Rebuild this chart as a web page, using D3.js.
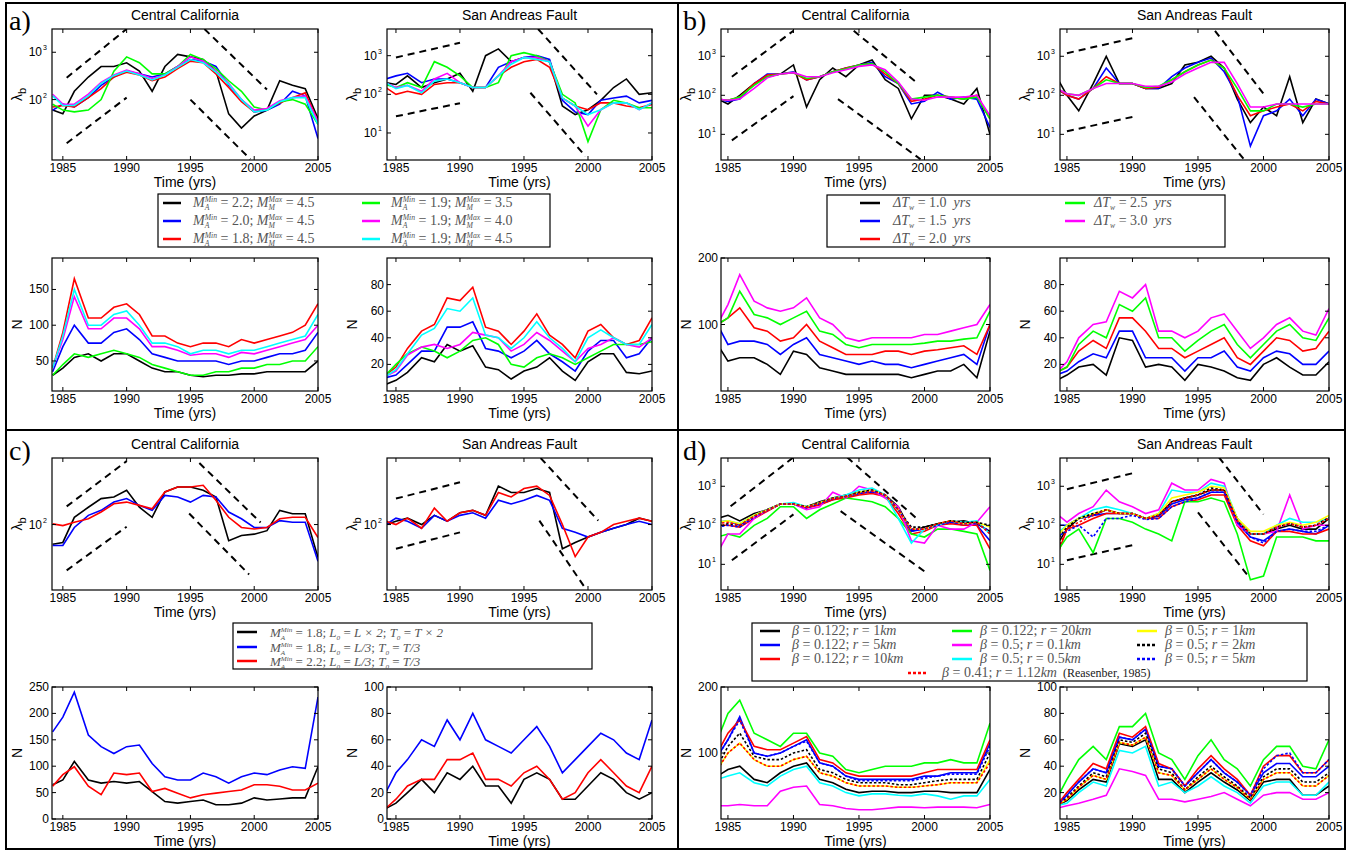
<!DOCTYPE html>
<html><head><meta charset="utf-8">
<script src="https://cdn.jsdelivr.net/npm/d3@7"></script>
<style>body{margin:0;background:#fff}text{white-space:pre}</style>
</head><body><svg id="c" width="1351" height="851"></svg>
<script>
// ---------- DATA ----------
const T=[1984.2,1985,1985.9,1987,1988,1989,1990,1991,1992,1993,1994,1995,1996,1997,1998,1999,2000,2001,2002,2003,2004,2005];
const xTicks=[1985,1990,1995,2000,2005];
const colA=["#000","#00f","#f00","#0f0","#f0f","#0ff"];
const colB=["#000","#00f","#f00","#0f0","#f0f"];
const colC=["#000","#00f","#f00"];
const colD=["#000","#00f","#f00","#0f0","#f0f","#0ff","#ff0","#000","#00f","#f00"];
const dashD=[0,0,0,0,0,0,0,1,1,1];

// panel a
const aCCLam=[
[60,50,150,300,500,500,600,400,150,500,900,800,700,400,50,25,45,60,250,200,170,40],
[60,80,70,110,200,300,400,350,300,350,500,700,650,500,200,100,55,60,80,150,120,15],
[70,75,70,110,170,300,380,330,250,300,450,650,600,350,180,90,55,65,85,110,140,35],
[80,60,55,60,100,400,800,600,350,350,500,900,700,450,250,150,70,60,90,100,80,30],
[130,80,80,130,230,330,420,350,280,330,500,800,650,400,220,100,60,65,95,110,120,35],
[120,75,75,120,220,320,400,330,260,330,480,700,600,380,210,100,55,60,90,110,110,30]];
const aSAFLam=[
[200,180,300,150,200,250,350,120,1000,1500,700,900,900,700,50,30,40,70,150,250,100,110],
[250,300,350,200,250,250,200,150,150,500,700,900,1000,800,70,35,30,70,80,90,60,70],
[150,100,120,100,180,200,200,150,150,300,500,700,800,500,80,50,40,60,60,50,45,55],
[180,150,200,150,700,500,300,150,150,200,1000,1200,1000,700,100,60,6,40,70,60,45,45],
[200,150,170,120,250,350,200,150,150,300,700,900,900,700,80,50,15,40,60,60,40,60],
[200,140,170,110,220,250,200,150,150,300,600,900,800,700,80,50,30,40,60,60,40,60]];
const aCCN=[
[30,40,55,60,50,60,60,50,40,35,35,30,28,30,30,32,32,35,35,35,35,50],
[35,70,100,75,75,90,95,80,60,55,50,50,50,50,45,50,50,55,60,60,65,90],
[40,90,165,110,110,125,130,115,85,85,75,70,75,75,70,80,75,80,85,90,100,130],
[30,45,60,55,60,65,60,55,45,40,35,30,30,35,35,40,40,45,45,50,50,70],
[40,80,140,95,95,110,110,95,70,70,65,58,60,60,55,62,60,65,70,75,80,100],
[40,85,150,100,100,115,120,100,75,75,70,60,65,65,60,65,65,70,75,80,85,115]];
const aSAFN=[
[5,8,14,25,22,35,30,34,18,16,9,15,18,25,15,8,22,28,28,14,13,15],
[10,12,20,30,30,48,48,52,32,30,25,30,38,28,22,15,30,38,38,25,28,40],
[12,18,32,45,50,70,68,78,48,45,35,45,58,42,35,25,45,50,40,35,38,55],
[12,20,28,33,30,25,30,38,40,35,20,18,25,28,25,20,25,30,35,35,35,37],
[11,15,27,33,35,32,35,44,42,40,30,35,44,38,30,22,32,35,40,35,33,40],
[11,16,28,42,47,62,60,70,42,40,32,40,52,40,32,22,40,46,40,35,35,50]];
const aCCRef=[[1985.3,290,1990,3100],[1985.3,12,1990,110],[1996.1,3100,2001,163],[1995,100,1999.7,5.5]];
const aSAFRef=[[1985,900,1990,2150],[1985,27,1990,59],[1996.1,4900,2000.7,100],[1995.5,110,1999.8,2.5]];
const aMA=["2.2","2.0","1.8","1.9","1.9","1.9"], aMM=["4.5","4.5","4.5","3.5","4.0","4.5"];

// panel b
const bCCLam=[
[80,60,100,200,300,350,600,50,250,500,300,600,800,250,150,25,100,100,80,60,150,10],
[80,70,80,200,350,350,400,250,300,400,500,600,700,300,200,60,70,120,80,90,80,15],
[80,75,90,200,330,350,380,250,300,400,500,600,650,350,200,70,80,100,90,80,100,25],
[80,75,90,180,300,350,380,270,300,400,480,600,650,400,200,80,90,100,90,80,90,25],
[80,75,80,150,280,350,380,300,300,380,450,550,600,450,220,80,75,90,90,90,100,30]];
const bSAFLam=[
[300,100,40,200,1000,200,200,150,150,200,600,700,1000,500,80,20,50,30,300,20,80,60],
[150,100,80,150,500,200,200,150,150,300,500,700,900,400,100,5,30,40,80,30,80,60],
[150,100,80,150,300,200,200,150,160,250,400,600,800,500,100,30,40,50,60,40,70,60],
[150,110,100,150,250,200,200,160,170,250,400,600,800,500,150,40,40,60,60,50,60,60],
[150,110,100,150,200,200,200,170,170,220,350,500,700,700,200,50,50,60,60,60,60,60]];
const bCCN=[
[70,45,50,50,40,25,60,55,35,30,25,25,25,25,25,20,25,30,30,40,20,90],
[100,70,75,75,70,55,70,80,55,50,45,40,45,40,40,35,40,45,50,55,40,100],
[100,110,125,95,90,75,80,100,75,65,55,55,55,60,60,55,60,62,65,68,55,100],
[100,110,150,115,110,100,110,120,90,85,70,65,70,70,70,70,72,75,75,78,80,120],
[100,130,175,135,125,120,125,140,110,100,80,75,80,80,80,80,85,85,90,95,100,130]];
const bSAFN=[
[8,12,18,20,12,40,38,18,20,18,8,20,18,15,10,8,20,25,18,12,12,22],
[12,15,22,28,25,45,45,25,25,25,15,25,25,30,18,15,25,30,28,20,20,30],
[14,18,30,38,32,55,55,45,32,32,25,30,35,40,25,20,30,40,38,30,32,45],
[14,18,35,45,40,65,60,70,40,40,30,38,45,50,35,25,35,45,50,40,38,55],
[14,22,40,50,52,75,70,80,45,45,40,45,55,58,45,32,40,50,55,45,42,62]];
const bCCRef=[[1985.3,300,1990,4500],[1985.3,7,1990,95],[1994.6,4500,1999.5,200],[1993.4,80,1999.7,2.3]];
const bSAFRef=[[1985,1200,1990,2900],[1985,12,1990,28],[1996.3,4500,2000,110],[1994.7,90,1998.5,2.3]];
const bDT=["1.0","1.5","2.0","2.5","3.0"];

// panel c
const cCCLam=[
[57,60,123,164,210,220,266,164,123,254,293,293,266,220,63,73,76,84,150,136,136,39],
[55,55,92,130,150,190,210,173,150,230,220,190,230,220,143,118,92,92,112,107,107,35],
[102,97,107,118,143,181,190,173,157,254,293,293,307,200,123,92,88,92,118,123,123,69]];
const cSAFLam=[
[100,110,120,100,130,110,140,150,130,300,250,250,280,250,50,60,70,80,90,100,120,110],
[100,120,110,90,130,110,130,140,120,200,180,200,230,200,90,80,70,80,90,100,110,100],
[110,100,120,90,160,110,140,150,130,250,220,280,300,230,100,40,70,80,100,110,120,110]];
const cCCN=[
[65,74,109,74,68,71,68,71,52,33,30,33,36,27,27,30,40,36,38,40,40,99],
[165,193,240,159,137,124,137,140,105,80,74,74,87,80,68,80,87,84,93,99,96,231],
[62,84,99,62,46,87,84,87,52,58,49,40,46,49,52,55,65,65,62,55,55,68]];
const cSAFN=[
[8,12,20,30,20,35,30,40,25,25,12,30,35,30,15,15,25,35,30,20,15,20],
[20,35,45,60,55,75,60,80,60,55,50,60,70,55,35,45,55,65,60,50,45,75],
[8,15,25,30,30,45,45,50,30,30,25,35,40,30,15,20,35,45,35,25,20,40]];
const cCCRef=[[1985.3,168,1990,612],[1985.3,27,1990,94],[1995.7,580,2000.5,106],[1994.9,137,1999.6,24]];
const cSAFRef=[[1985,210,1990,335],[1985,50,1990,80],[1996.3,670,2000.8,112],[1996.2,112,1999.7,17]];
const cMA=["1.8","1.8","2.2"], cL0=["L × 2","L/3","L/3"], cT0=["T × 2","T/3","T/3"];

// panel d
const dCCLam=[
[150,180,130,200,250,350,350,300,400,500,600,700,800,600,300,70,90,110,120,130,110,70],
[120,130,100,180,250,350,350,300,350,450,550,650,700,600,250,70,80,110,120,100,100,40],
[100,100,90,150,230,350,350,280,330,450,500,600,650,550,200,60,70,100,110,100,100,25],
[50,60,50,100,150,300,300,150,250,350,500,450,400,300,150,60,50,80,80,70,60,7],
[20,60,60,150,250,350,350,250,300,700,500,1000,800,500,300,40,35,100,80,80,120,300],
[120,130,110,180,250,350,380,300,380,500,600,800,900,600,150,35,80,100,130,120,130,60],
[120,130,110,180,250,350,350,300,380,500,550,700,800,600,250,80,80,110,130,110,120,90],
[90,110,100,170,250,350,350,300,380,500,550,700,800,600,250,90,90,110,130,120,120,100],
[90,100,90,160,240,350,350,280,360,480,550,650,750,600,250,80,80,100,120,110,110,70],
[110,120,100,170,240,350,350,290,370,480,550,650,750,600,250,80,80,110,130,110,120,60]];
const dSAFLam=[
[30,80,150,180,250,200,200,150,180,400,500,600,800,800,150,60,60,80,100,80,80,150],
[100,100,150,180,200,200,200,150,170,350,450,500,700,700,120,50,40,70,80,70,60,100],
[15,80,100,150,200,200,200,150,150,300,400,450,600,600,100,40,30,70,70,60,60,80],
[20,50,80,20,150,150,120,80,60,40,400,400,500,400,60,4,5,50,50,50,40,40],
[200,120,200,300,800,400,300,200,250,1200,800,800,1500,1200,100,60,60,70,600,80,100,100],
[60,100,150,250,300,250,200,150,200,800,700,700,1200,1000,150,60,60,100,150,120,120,150],
[50,100,150,200,250,200,200,150,200,500,600,700,1000,900,150,70,70,100,120,100,120,180],
[40,90,150,200,250,200,200,150,180,400,500,600,900,800,130,60,60,90,110,90,100,160],
[50,70,100,50,150,150,180,140,150,300,400,500,700,700,120,50,35,70,80,70,70,100],
[20,80,120,180,250,200,200,150,180,400,500,600,800,800,130,60,60,90,110,90,100,150]];
const dCCN=[
[65,75,80,60,55,70,80,85,60,55,45,40,42,42,40,40,42,42,40,40,40,75],
[95,120,155,100,95,100,110,120,85,80,65,60,60,60,60,60,65,65,70,70,70,115],
[100,130,150,110,105,105,115,125,90,85,70,65,65,65,65,65,70,75,75,75,75,120],
[120,160,180,130,120,110,130,130,100,95,75,70,75,80,80,80,85,85,90,85,85,145],
[20,20,22,20,20,42,48,50,22,20,16,14,14,16,18,18,17,18,18,18,17,22],
[60,65,70,55,50,65,75,80,55,50,40,35,38,38,36,35,38,35,30,35,35,60],
[75,100,115,90,80,80,90,95,70,65,55,50,50,50,48,48,50,52,55,55,55,90],
[80,110,130,95,90,90,100,105,75,70,60,55,55,55,52,52,55,58,60,60,60,100],
[95,120,150,100,95,100,110,118,85,80,65,58,58,58,58,58,62,65,68,68,68,110],
[75,100,115,90,80,80,90,95,70,65,55,50,50,50,48,48,50,52,55,55,55,85]];
const dSAFN=[
[10,14,22,30,28,57,55,60,30,30,20,28,35,28,22,14,28,30,30,18,18,25],
[10,18,28,38,35,62,60,68,40,38,25,35,45,35,28,18,35,42,42,32,32,40],
[10,20,30,42,38,65,62,70,42,38,25,38,48,38,30,18,40,48,48,35,35,45],
[15,30,45,55,45,70,70,80,50,45,30,48,60,45,38,25,45,55,55,40,38,60],
[8,10,12,15,18,38,36,33,15,15,13,15,17,20,15,10,18,20,20,15,15,20],
[10,12,20,28,25,52,50,55,25,28,20,25,32,25,20,12,25,28,28,18,18,28],
[10,15,24,33,30,58,56,62,35,33,22,30,38,30,24,15,30,35,35,25,25,33],
[10,16,25,35,32,60,58,65,38,35,22,32,40,32,25,16,32,38,38,28,28,35],
[10,18,28,38,35,62,60,68,40,38,25,35,45,35,28,18,38,48,50,35,35,45],
[10,15,24,33,30,58,56,62,35,33,22,30,38,30,24,15,30,35,35,25,25,33]];
const dCCRef=[[1985.2,307,1990,5500],[1985.3,12.7,1990,190],[1994.1,5500,1999.5,140],[1993.6,230,2000,6.6]];
const dSAFRef=[[1985,840,1990,2150],[1985,12.7,1990,31],[1996.6,5500,2000,190],[1995,215,1998.8,5.2]];
const dBeta=["0.122","0.122","0.122","0.122","0.5","0.5","0.5","0.5","0.5","0.41"];
const dR=["1","5","10","20","0.1","0.5","1","2","5","1.12"];

// ---------- DRAW ----------
const svg=d3.select("#c");
const SANS="Liberation Sans, Arial, sans-serif", SERIF="Liberation Serif, Times New Roman, serif";
let clipId=0;
function plot(o){
  const g=svg.append("g");
  const x=d3.scaleLinear().domain(o.xd).range([o.x0,o.x1]);
  const y=(o.log?d3.scaleLog():d3.scaleLinear()).domain(o.yd).range([o.y1,o.y0]);
  const id="cl"+(clipId++);
  g.append("clipPath").attr("id",id).append("rect").attr("x",o.x0).attr("y",o.y0).attr("width",o.x1-o.x0).attr("height",o.y1-o.y0);
  const pg=g.append("g").attr("clip-path",`url(#${id})`);
  if(o.refs) o.refs.forEach(r=>pg.append("line").attr("x1",x(r[0])).attr("y1",y(r[1])).attr("x2",x(r[2])).attr("y2",y(r[3]))
     .attr("stroke","#000").attr("stroke-width",2).attr("stroke-dasharray","7,5"));
  const line=d3.line().x((d,i)=>x(T[i])).y(d=>y(d));
  o.series.forEach((s,i)=>{
    pg.append("path").attr("d",line(s)).attr("fill","none").attr("stroke",o.colors[i])
      .attr("stroke-width",1.6).attr("stroke-dasharray",o.dash&&o.dash[i]?"2.5,2":null);
  });
  g.append("rect").attr("x",o.x0).attr("y",o.y0).attr("width",o.x1-o.x0).attr("height",o.y1-o.y0).attr("fill","none").attr("stroke","#000").attr("stroke-width",1.2);
  xTicks.forEach(t=>{const xx=x(t);
    g.append("line").attr("x1",xx).attr("x2",xx).attr("y1",o.y1).attr("y2",o.y1-4).attr("stroke","#000");
    g.append("line").attr("x1",xx).attr("x2",xx).attr("y1",o.y0).attr("y2",o.y0+4).attr("stroke","#000");
    g.append("text").attr("x",xx).attr("y",o.y1+12).attr("text-anchor","middle").attr("font-family",SANS).attr("font-size",12).text(t);
  });
  o.yt.forEach(t=>{const yy=y(t);
    g.append("line").attr("x1",o.x0).attr("x2",o.x0+4).attr("y1",yy).attr("y2",yy).attr("stroke","#000");
    g.append("line").attr("x1",o.x1).attr("x2",o.x1-4).attr("y1",yy).attr("y2",yy).attr("stroke","#000");
    if(o.log){
      g.append("text").attr("x",o.x0-10).attr("y",yy+4).attr("text-anchor","end").attr("font-family",SANS).attr("font-size",12).text("10");
      g.append("text").attr("x",o.x0-9).attr("y",yy-2).attr("font-family",SANS).attr("font-size",7).text(Math.round(Math.log10(t)));
    } else {
      g.append("text").attr("x",o.x0-3).attr("y",yy+4).attr("text-anchor","end").attr("font-family",SANS).attr("font-size",12).text(t);
    }
  });
  g.append("text").attr("x",(o.x0+o.x1)/2).attr("y",o.y1+27).attr("text-anchor","middle").attr("font-family",SANS).attr("font-size",14).text("Time (yrs)");
  if(o.title) g.append("text").attr("x",(o.x0+o.x1)/2).attr("y",o.y0-9).attr("text-anchor","middle").attr("font-family",SANS).attr("font-size",14).text(o.title);
  const lx=o.x0-30, ly=(o.y0+o.y1)/2;
  const lab=g.append("text").attr("transform",`translate(${lx},${ly}) rotate(-90)`).attr("text-anchor","middle").attr("font-family",SANS).attr("font-size",14);
  if(o.log){lab.append("tspan").text("λ");lab.append("tspan").attr("font-size",11).attr("dy",4).text("b");}
  else lab.text("N");
}
const LT=[29,160], NT=[258,391], LB=[458,590], NB=[687,819];
const XA=[52,318], XA2=[387,652], XB=[721,990], XB2=[1060,1329];
const dA=[1984.15,2005], dA2=[1984.3,2005], dB=[1984.47,2005];
function P(xr,yr,xd,yd,log,yt,series,colors,refs,title,dash){
  plot({x0:xr[0],x1:xr[1],y0:yr[0],y1:yr[1],xd,yd,log,yt,series,colors,refs,title,dash});
}
P(XA,LT,dA,[5.3,3100],true,[100,1000],aCCLam,colA,aCCRef,"Central California");
P(XA2,LT,dA2,[2,4900],true,[10,100,1000],aSAFLam,colA,aSAFRef,"San Andreas Fault");
P(XA,NT,dA,[8,194],false,[50,100,150],aCCN,colA);
P(XA2,NT,dA2,[0,100],false,[20,40,60,80],aSAFN,colA);
P(XB,LT,dB,[2.2,5000],true,[10,100,1000],bCCLam,colB,bCCRef,"Central California");
P(XB2,LT,dB,[2.2,5000],true,[10,100,1000],bSAFLam,colB,bSAFRef,"San Andreas Fault");
P(XB,NT,dB,[0,200],false,[100,200],bCCN,colB);
P(XB2,NT,dB,[0,100],false,[20,40,60,80],bSAFN,colB);
P(XA,LB,dA,[15.4,670],true,[100],cCCLam,colC,cCCRef,"Central California");
P(XA2,LB,dA2,[15.4,670],true,[100],cSAFLam,colC,cSAFRef,"San Andreas Fault");
P(XA,NB,dA,[0,250],false,[0,50,100,150,200,250],cCCN,colC);
P(XA2,NB,dA2,[0,100],false,[0,20,40,60,80,100],cSAFN,colC);
P(XB,LB,dB,[2.2,5300],true,[10,100,1000],dCCLam,colD,dCCRef,"Central California",dashD);
P(XB2,LB,dB,[2.2,5300],true,[10,100,1000],dSAFLam,colD,dSAFRef,"San Andreas Fault",dashD);
P(XB,NB,dB,[0,200],false,[100,200],dCCN,colD,null,null,dashD);
P(XB2,NB,dB,[0,100],false,[20,40,60,80,100],dSAFN,colD,null,null,dashD);

// legends
const LC="#555";
function math(g,x,y,pieces,fs){
  let cx=x;
  pieces.forEach(p=>{
    const t=g.append("text").attr("x",cx).attr("y",y).attr("font-family",SERIF).attr("font-size",p.fs||fs)
      .attr("font-style",p.i?"italic":"normal").attr("fill",p.c||LC).text(p.t);
    const w=t.node().getComputedTextLength(); let ws=0;
    if(p.sup){const s=g.append("text").attr("x",cx+w).attr("y",y-fs*0.36).attr("font-family",SERIF).attr("font-size",fs*0.55).attr("font-style","italic").attr("fill",LC).text(p.sup);ws=Math.max(ws,s.node().getComputedTextLength());}
    if(p.sub){const s=g.append("text").attr("x",cx+w).attr("y",y+fs*0.22).attr("font-family",SERIF).attr("font-size",fs*0.55).attr("font-style","italic").attr("fill",LC).text(p.sub);ws=Math.max(ws,s.node().getComputedTextLength());}
    cx+=w+ws;
  });
}
function box(x0,y0,x1,y1){svg.append("rect").attr("x",x0).attr("y",y0).attr("width",x1-x0).attr("height",y1-y0).attr("fill","#fff").attr("stroke","#000").attr("stroke-width",1.2);}
function key(x0,x1,y,c,dash){svg.append("line").attr("x1",x0).attr("x2",x1).attr("y1",y).attr("y2",y).attr("stroke",c).attr("stroke-width",2.5).attr("stroke-dasharray",dash?"3,2":null);}
box(158,194,550,247);
const aPos=[[163,193,207],[163,193,225],[163,193,243],[362,391,207],[362,391,225],[362,391,243]];
aMA.forEach((m,i)=>{const p=aPos[i];key(p[0],p[0]+18,p[2]-4,colA[i]);
  math(svg,p[1],p[2],[{t:"M",i:1,sup:"Min",sub:"A"},{t:" = "+m+"; "},{t:"M",i:1,sup:"Max",sub:"M"},{t:" = "+aMM[i]}],14);});
box(827,195,1225,247);
const bPos=[[860,893,207],[860,893,225],[860,893,243],[1065,1094,207],[1065,1094,225]];
bDT.forEach((v,i)=>{const p=bPos[i];key(p[0],p[0]+20,p[2]-4,colB[i]);
  math(svg,p[1],p[2],[{t:"ΔT",i:1,sub:"w"},{t:" = "+v+"  "},{t:"yrs",i:1}],14);});
box(233,623,592,669);
[637,652,666].forEach((yy,i)=>{key(237,257,yy-5,colC[i]);
  math(svg,270,yy,[{t:"M",i:1,sup:"Min",sub:"A"},{t:" = "+cMA[i]+"; "},{t:"L",i:1,sub:"0"},{t:" = "},{t:cL0[i],i:1},{t:"; "},{t:"T",i:1,sub:"0"},{t:" = "},{t:cT0[i],i:1}],13);});
box(752,623,1307,681);
const dPos=[[760,792,635],[760,792,649],[760,792,663],[952,980,635],[952,980,649],[952,980,663],[1137,1165,635],[1137,1165,649],[1137,1165,663],[908,942,677]];
dBeta.forEach((b,i)=>{const p=dPos[i];key(p[0],p[0]+20,p[2]-4,colD[i],dashD[i]);
  const parts=[{t:"β",i:1},{t:" = "+b+"; "},{t:"r",i:1},{t:" = "+dR[i]},{t:"km",i:1}];
  if(i===9) parts.push({t:"  (Reasenber, 1985)",fs:12,c:"#222"});
  math(svg,p[1],p[2],parts,14);});

svg.append("rect").attr("x",6).attr("y",3).attr("width",1339).attr("height",846).attr("fill","none").attr("stroke","#000").attr("stroke-width",2);
svg.append("line").attr("x1",678).attr("x2",678).attr("y1",3).attr("y2",849).attr("stroke","#000").attr("stroke-width",2);
svg.append("line").attr("x1",6).attr("x2",1345).attr("y1",430).attr("y2",430).attr("stroke","#000").attr("stroke-width",2);
[["a)",9,30],["b)",683,30],["c)",9,460],["d)",683,460]].forEach(l=>svg.append("text").attr("x",l[1]).attr("y",l[2]).attr("font-family",SERIF).attr("font-size",28).text(l[0]));
</script></body></html>
